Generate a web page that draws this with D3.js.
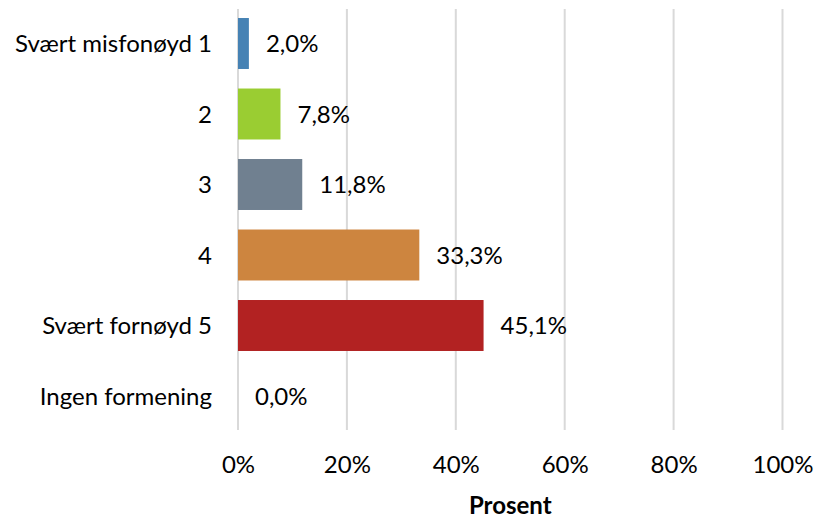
<!DOCTYPE html>
<html>
<head>
<meta charset="utf-8">
<script src="https://cdn.jsdelivr.net/npm/d3@7"></script>
<style>
  html, body { margin: 0; padding: 0; background: #fff; }
  svg { display: block; }
  text { font-family: Lato, "Open Sans", sans-serif; fill: #000; }
</style>
</head>
<body>
<svg id="chart" width="815" height="518"></svg>
<script>
const categories = ["Svært misfonøyd 1", "2", "3", "4", "Svært fornøyd 5", "Ingen formening"];
const values = [2.0, 7.8, 11.8, 33.3, 45.1, 0.0];
const colors = ["#4682B4", "#9ACD32", "#708090", "#CD853F", "#B22222", "#B22222"];
const xTicks = [0, 20, 40, 60, 80, 100];
const xTitle = "Prosent";

const FS = 24;
const svg = d3.select("#chart");
const margin = { left: 238, right: 32.5, top: 8.25, bottom: 86.75 };
const W = 815, H = 518;

const x = d3.scaleLinear().domain([0, 100]).range([margin.left, W - margin.right]);
const y = d3.scaleBand().domain(categories).range([margin.top, H - margin.bottom]).paddingInner(0.277).paddingOuter(0.1385);

// gridlines
svg.append("g").selectAll("line").data(xTicks).join("line")
  .attr("x1", d => x(d)).attr("x2", d => x(d))
  .attr("y1", 9).attr("y2", 430)
  .attr("stroke", "#d9d9d9").attr("stroke-width", 2);

// bars
svg.append("g").selectAll("rect").data(values).join("rect")
  .attr("x", x(0))
  .attr("y", (d, i) => y(categories[i]))
  .attr("width", d => x(d) - x(0))
  .attr("height", y.bandwidth())
  .attr("fill", (d, i) => colors[i]);

// value labels
svg.append("g").selectAll("text").data(values).join("text")
  .attr("x", d => x(d) + 17)
  .attr("y", (d, i) => y(categories[i]) + y.bandwidth() / 2)
  .attr("dy", "0.37em")
  .attr("font-size", FS)
  .text(d => d.toFixed(1).replace(".", ",") + "%");

// y axis labels
const yAxis = d3.axisLeft(y).tickSize(0).tickPadding(0);
const gy = svg.append("g").attr("transform", `translate(212,0)`).call(yAxis);
gy.select(".domain").remove();
gy.selectAll("text").attr("font-size", FS).attr("font-family", "Lato, 'Open Sans', sans-serif").attr("fill", "#000").attr("dy", "0.37em");

// x axis labels
const xAxis = d3.axisBottom(x).tickValues(xTicks).tickSize(0).tickPadding(0).tickFormat(d => d + "%");
const gx = svg.append("g").attr("transform", `translate(0,473)`).call(xAxis);
gx.select(".domain").remove();
gx.selectAll("text").attr("font-size", FS).attr("font-family", "Lato, 'Open Sans', sans-serif").attr("fill", "#000").attr("dy", "0").attr("y", 0);

svg.append("text")
  .attr("x", x(50)).attr("y", 514)
  .attr("text-anchor", "middle")
  .attr("font-size", 24).attr("font-weight", "bold")
  .text(xTitle);
</script>
</body>
</html>
